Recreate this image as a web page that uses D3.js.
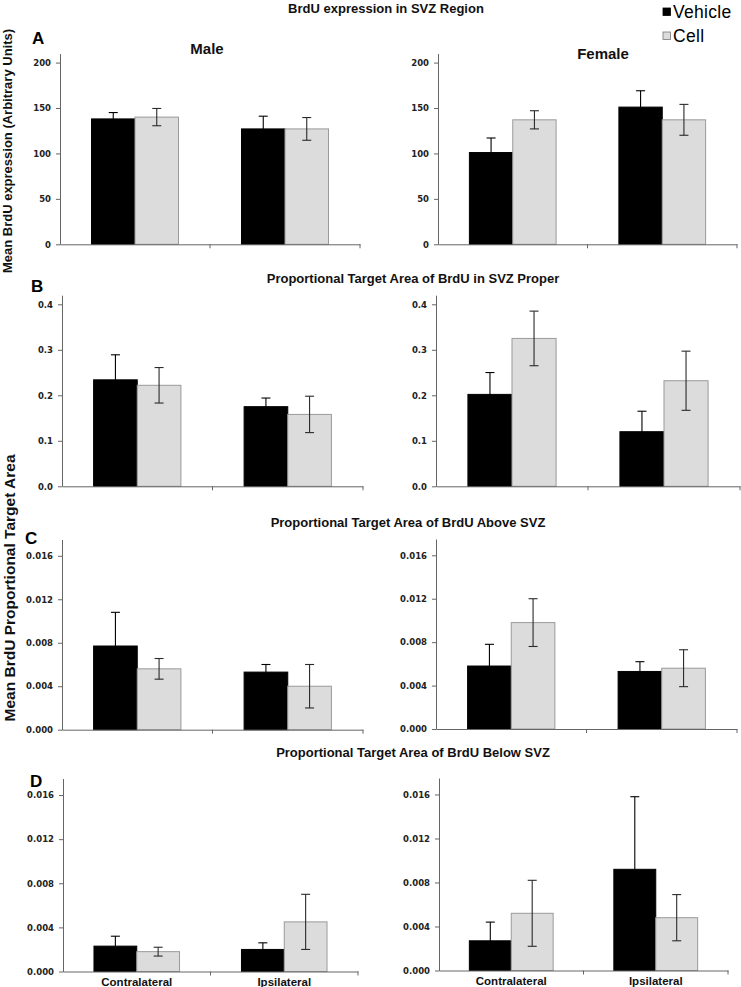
<!DOCTYPE html>
<html>
<head>
<meta charset="utf-8">
<script src="https://cdn.jsdelivr.net/npm/d3@7"></script>
<style>
  body { margin: 0; background: #fff; }
  svg { display: block; }
</style>
</head>
<body>
<script>
// ---------------- DATA ----------------
const categories = ["Contralateral", "Ipsilateral"];
const seriesNames = ["Vehicle", "Cell"];

// A: BrdU expression in SVZ region (arbitrary units)
const aMaleVehicle = [138, 127];      const aMaleVehicleErr = [7, 14];
const aMaleCell = [140, 127];         const aMaleCellErr = [9.5, 12.5];
const aFemaleVehicle = [101, 151];    const aFemaleVehicleErr = [16, 18];
const aFemaleCell = [137, 137];       const aFemaleCellErr = [10, 17];

// B: proportional target area in SVZ proper
const bMaleVehicle = [0.234, 0.175];  const bMaleVehicleErr = [0.055, 0.019];
const bMaleCell = [0.222, 0.158];     const bMaleCellErr = [0.039, 0.040];
const bFemaleVehicle = [0.202, 0.120]; const bFemaleVehicleErr = [0.048, 0.045];
const bFemaleCell = [0.325, 0.232];   const bFemaleCellErr = [0.060, 0.065];

// C: proportional target area above SVZ
const cMaleVehicle = [0.0077, 0.0053]; const cMaleVehicleErr = [0.0031, 0.0007];
const cMaleCell = [0.0056, 0.0040];    const cMaleCellErr = [0.00095, 0.0020];
const cFemaleVehicle = [0.0058, 0.0053]; const cFemaleVehicleErr = [0.0020, 0.0009];
const cFemaleCell = [0.0098, 0.0056];  const cFemaleCellErr = [0.0022, 0.0017];

// D: proportional target area below SVZ
const dMaleVehicle = [0.0023, 0.0020]; const dMaleVehicleErr = [0.0009, 0.0006];
const dMaleCell = [0.0018, 0.0045];    const dMaleCellErr = [0.0004, 0.0025];
const dFemaleVehicle = [0.0027, 0.0092]; const dFemaleVehicleErr = [0.0017, 0.0066];
const dFemaleCell = [0.0052, 0.0048];  const dFemaleCellErr = [0.0030, 0.0021];

// tick values
const ticksA = [0, 50, 100, 150, 200];
const ticksB = [0, 0.1, 0.2, 0.3, 0.4];
const ticksCD = [0, 0.004, 0.008, 0.012, 0.016];

const panelTitles = [
  "BrdU expression in SVZ Region",
  "Proportional Target Area of BrdU in SVZ Proper",
  "Proportional Target Area of BrdU Above SVZ",
  "Proportional Target Area of BrdU Below SVZ"
];
const panelLetters = ["A", "B", "C", "D"];
const sexLabels = ["Male", "Female"];
const yLabelTop = "Mean BrdU expression (Arbitrary Units)";
const yLabelBottom = "Mean BrdU Proportional Target Area";

// ---------------- LAYOUT ----------------
const W = 741, H = 987;
const svg = d3.select("body").append("svg").attr("width", W).attr("height", H);

const COLORS = { Vehicle: "#000000", Cell: "#dcdcdc" };
const CELL_STROKE = "#9a9a9a";
const AXIS = "#666";
const TITLE_FONT = "'Liberation Sans', Arial, sans-serif";
const TICK_FONT = "'DejaVu Sans', Verdana, sans-serif";

const fmtA = d3.format("d");
const fmtB = d3.format(".1f");
const fmtCD = d3.format(".3f");

const charts = [
  // row A
  { x0: 60, x1: 360, yZero: 244.3, yTop: 53.5, max: 210, ticks: ticksA, fmt: fmtA,
    v: aMaleVehicle, ve: aMaleVehicleErr, c: aMaleCell, ce: aMaleCellErr, xlab: false },
  { x0: 438, x1: 737, yZero: 244.3, yTop: 53.5, max: 210, ticks: ticksA, fmt: fmtA,
    v: aFemaleVehicle, ve: aFemaleVehicleErr, c: aFemaleCell, ce: aFemaleCellErr, xlab: false },
  // row B
  { x0: 62, x1: 363, yZero: 486.3, yTop: 295.2, max: 0.42, ticks: ticksB, fmt: fmtB,
    v: bMaleVehicle, ve: bMaleVehicleErr, c: bMaleCell, ce: bMaleCellErr, xlab: false },
  { x0: 436, x1: 740, yZero: 486.3, yTop: 295.2, max: 0.42, ticks: ticksB, fmt: fmtB,
    v: bFemaleVehicle, ve: bFemaleVehicleErr, c: bFemaleCell, ce: bFemaleCellErr, xlab: false },
  // row C
  { x0: 62, x1: 363, yZero: 729.7, yTop: 539.5, max: 0.0175, ticks: ticksCD, fmt: fmtCD,
    v: cMaleVehicle, ve: cMaleVehicleErr, c: cMaleCell, ce: cMaleCellErr, xlab: false },
  { x0: 436, x1: 737, yZero: 729, yTop: 539, max: 0.0175, ticks: ticksCD, fmt: fmtCD,
    v: cFemaleVehicle, ve: cFemaleVehicleErr, c: cFemaleCell, ce: cFemaleCellErr, xlab: false },
  // row D
  { x0: 63, x1: 358, yZero: 971.5, yTop: 778.5, max: 0.0175, ticks: ticksCD, fmt: fmtCD,
    v: dMaleVehicle, ve: dMaleVehicleErr, c: dMaleCell, ce: dMaleCellErr, xlab: true },
  { x0: 439, x1: 728, yZero: 970.5, yTop: 778, max: 0.0175, ticks: ticksCD, fmt: fmtCD,
    v: dFemaleVehicle, ve: dFemaleVehicleErr, c: dFemaleCell, ce: dFemaleCellErr, xlab: true }
];

function drawChart(spec) {
  const g = svg.append("g");
  const x = d3.scaleBand().domain(categories).range([spec.x0, spec.x1])
    .paddingInner(0.42).paddingOuter(0.21);
  const xs = d3.scaleBand().domain(seriesNames).range([0, x.bandwidth()]).padding(0);
  const y = d3.scaleLinear().domain([0, spec.max]).range([spec.yZero, spec.yTop]);

  const rows = [];
  categories.forEach((cat, i) => {
    rows.push({ cat, s: "Vehicle", val: spec.v[i], err: spec.ve[i] });
    rows.push({ cat, s: "Cell", val: spec.c[i], err: spec.ce[i] });
  });

  // bars
  g.selectAll("rect.bar").data(rows).join("rect")
    .attr("class", "bar")
    .attr("x", d => x(d.cat) + xs(d.s))
    .attr("y", d => y(d.val))
    .attr("width", xs.bandwidth())
    .attr("height", d => y(0) - y(d.val))
    .attr("fill", d => COLORS[d.s])
    .attr("stroke", d => d.s === "Cell" ? CELL_STROKE : "#000")
    .attr("stroke-width", 1);

  // error bars (dark, so the lower half vanishes inside black bars)
  const eb = g.selectAll("g.err").data(rows).join("g").attr("class", "err")
    .attr("stroke", d => d.s === "Vehicle" ? "#000" : "#2a2a2a").attr("stroke-width", 1.1);
  const cx = d => x(d.cat) + xs(d.s) + xs.bandwidth() / 2;
  eb.append("line")
    .attr("x1", cx).attr("x2", cx)
    .attr("y1", d => y(d.val + d.err)).attr("y2", d => y(Math.max(0, d.val - d.err)));
  eb.append("line")
    .attr("x1", d => cx(d) - 4.5).attr("x2", d => cx(d) + 4.5)
    .attr("y1", d => y(d.val + d.err)).attr("y2", d => y(d.val + d.err));
  eb.append("line")
    .attr("x1", d => cx(d) - 4.5).attr("x2", d => cx(d) + 4.5)
    .attr("y1", d => y(Math.max(0, d.val - d.err))).attr("y2", d => y(Math.max(0, d.val - d.err)));

  // y axis
  const ya = g.append("g").attr("transform", `translate(${spec.x0},0)`)
    .call(d3.axisLeft(y).tickValues(spec.ticks).tickFormat(spec.fmt)
      .tickSize(4).tickSizeOuter(0).tickPadding(5));
  ya.select(".domain").attr("stroke", AXIS);
  ya.selectAll(".tick line").attr("stroke", AXIS);
  ya.selectAll(".tick text")
    .attr("font-family", TICK_FONT).attr("font-weight", "bold")
    .attr("font-size", 8.5).attr("fill", "#222");

  // x axis (category boundaries as ticks)
  const xa = g.append("g").attr("transform", `translate(0,${spec.yZero})`)
    .call(d3.axisBottom(x).tickSize(0).tickPadding(6)
      .tickFormat(spec.xlab ? (d => d) : (() => "")));
  xa.select(".domain").attr("stroke", AXIS);
  xa.selectAll(".tick text")
    .attr("font-family", TITLE_FONT).attr("font-weight", "bold")
    .attr("font-size", 11.5).attr("fill", "#111");
  const r = x.range();
  const mid = (x(categories[0]) + x.bandwidth() + x(categories[1])) / 2;
  [mid, r[1]].forEach(px => {
    xa.append("line").attr("x1", px).attr("x2", px).attr("y1", 0).attr("y2", 4)
      .attr("stroke", AXIS);
  });
}

charts.forEach(drawChart);

// ---------------- TEXT ----------------
const titlePos = [[386, 12.5], [413, 283], [408, 527], [413, 757]];
panelTitles.forEach((t, i) => {
  svg.append("text").attr("x", titlePos[i][0]).attr("y", titlePos[i][1])
    .attr("text-anchor", "middle").attr("font-family", TITLE_FONT)
    .attr("font-weight", "bold").attr("font-size", 13).attr("fill", "#111").text(t);
});

const letterPos = [[32, 44], [31, 292], [25, 544], [30, 787]];
panelLetters.forEach((t, i) => {
  svg.append("text").attr("x", letterPos[i][0]).attr("y", letterPos[i][1])
    .attr("font-family", TITLE_FONT).attr("font-weight", "bold")
    .attr("font-size", 17).attr("fill", "#000").text(t);
});

const sexPos = [[207, 54], [603, 59]];
sexLabels.forEach((t, i) => {
  svg.append("text").attr("x", sexPos[i][0]).attr("y", sexPos[i][1])
    .attr("text-anchor", "middle").attr("font-family", TITLE_FONT)
    .attr("font-weight", "bold").attr("font-size", 15).attr("fill", "#111").text(t);
});

svg.append("text").attr("transform", "translate(12,151) rotate(-90)")
  .attr("text-anchor", "middle").attr("font-family", TITLE_FONT)
  .attr("font-weight", "bold").attr("font-size", 13).attr("fill", "#111").text(yLabelTop);

svg.append("text").attr("transform", "translate(15,588) rotate(-90)")
  .attr("text-anchor", "middle").attr("font-family", TITLE_FONT)
  .attr("font-weight", "bold").attr("font-size", 15.5).attr("fill", "#111").text(yLabelBottom);

// legend
const legend = svg.append("g");
seriesNames.forEach((s, i) => {
  const yy = 8 + i * 24;
  legend.append("rect").attr("x", 663).attr("y", yy).attr("width", 7.5).attr("height", 7.5)
    .attr("fill", COLORS[s]).attr("stroke", s === "Cell" ? "#777" : "#000").attr("stroke-width", 0.8);
  legend.append("text").attr("x", 673).attr("y", yy + 9.5)
    .attr("font-family", TITLE_FONT).attr("font-size", 17.5)
    .attr("letter-spacing", 0.3).attr("fill", "#000").text(s);
});
</script>
</body>
</html>
